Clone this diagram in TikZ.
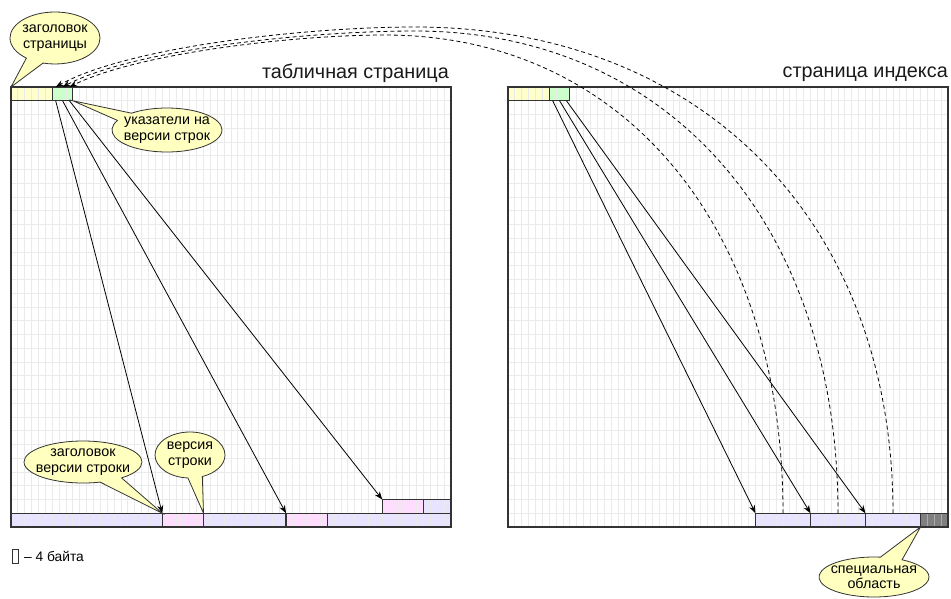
\documentclass[tikz,border=0pt]{standalone}
\usepackage{fontspec}
\setmainfont{Liberation Sans}
\usetikzlibrary{arrows.meta,shapes.callouts}
\definecolor{gridc}{RGB}{234,234,234}
\definecolor{edgec}{RGB}{51,51,51}
\definecolor{hdrfill}{RGB}{255,255,204}
\definecolor{ptrfill}{RGB}{204,255,204}
\definecolor{tuphdr}{RGB}{255,221,255}
\definecolor{tupdata}{RGB}{232,228,255}
\definecolor{specfill}{RGB}{128,128,128}
\definecolor{specline}{RGB}{170,170,170}
\definecolor{notefill}{RGB}{255,255,192}
\begin{document}
\begin{tikzpicture}[x=1pt,y=-1pt,
  cellblk/.style={rectangle, inner sep=0pt, outer sep=0pt, anchor=north west, minimum height=13.75pt},
  cells/.style={minimum width=#1*6.875pt},
  pagebox/.style={rectangle, inner sep=0pt, outer sep=0pt, anchor=north west, minimum width=440pt, minimum height=440pt},
  gridln/.style={draw=gridc, line width=1pt},
  blkedge/.style={draw=edgec, line width=1.1pt},
  ptr/.style={draw=black, line width=0.8pt, -{Stealth[length=8pt,width=6pt]}},
  tidlink/.style={ptr, dash pattern=on 4pt off 3pt},
  remark/.style={ellipse callout, draw=edgec, line width=0.8pt, fill=notefill, inner sep=0pt, callout pointer arc=24},
  remarktext/.style={align=center, inner sep=0pt, font=\fontsize{14.3}{15.5}\selectfont},
  pagetitle/.style={anchor=base east, inner sep=0pt, font=\fontsize{19.8}{22}\selectfont, text=black!90},
]
\useasboundingbox (0,0) rectangle (951,598);
\fill[white] (0,0) rectangle (951,598);

% pages
\node[pagebox] (lpage) at (11,87) {};
\node[pagebox] (rpage) at (508,87) {};

% table page: header, line pointers, tuples
\node[cellblk,cells=6,fill=hdrfill] (lhdr) at (11,87) {};
\node[cellblk,cells=1,fill=ptrfill] (lp1) at (52.25,87) {};
\node[cellblk,cells=1,fill=ptrfill] (lp2) at (59.125,87) {};
\node[cellblk,cells=1,fill=ptrfill] (lp3) at (66,87) {};
\node[cellblk,cells=6,fill=tuphdr] (t1h) at (382.25,499.5) {};
\node[cellblk,cells=4,fill=tupdata] (t1d) at (423.5,499.5) {};
\node[cellblk,cells=22,fill=tupdata] (t1e) at (11,513.25) {};
\node[cellblk,cells=6,fill=tuphdr] (t2h) at (162.25,513.25) {};
\node[cellblk,cells=12,fill=tupdata] (t2d) at (203.5,513.25) {};
\node[cellblk,cells=6,fill=tuphdr] (t3h) at (286,513.25) {};
\node[cellblk,cells=18,fill=tupdata] (t3d) at (327.25,513.25) {};

% index page: header, line pointers, index tuples, special area
\node[cellblk,cells=6,fill=hdrfill] (rhdr) at (508,87) {};
\node[cellblk,cells=1,fill=ptrfill] (rp1) at (549.25,87) {};
\node[cellblk,cells=1,fill=ptrfill] (rp2) at (556.125,87) {};
\node[cellblk,cells=1,fill=ptrfill] (rp3) at (563,87) {};
\node[cellblk,cells=8,fill=tupdata] (i1) at (755.5,513.25) {};
\node[cellblk,cells=8,fill=tupdata] (i2) at (810.5,513.25) {};
\node[cellblk,cells=8,fill=tupdata] (i3) at (865.5,513.25) {};
\node[cellblk,cells=4,fill=specfill] (sp) at (920.5,513.25) {};

% 4-byte grid
\foreach \ox in {11,508}{
  \foreach \i in {1,...,63} \draw[gridln] (\ox+\i*6.875,87) -- (\ox+\i*6.875,527);
  \foreach \j in {1,...,31} \draw[gridln] (\ox,87+\j*13.75) -- (\ox+440,87+\j*13.75);
}
\fill[specfill] (sp.north west) rectangle (sp.south east);
\foreach \i in {1,2,3} \draw[draw=specline, line width=1pt] (920.5+\i*6.875,513.25) -- (920.5+\i*6.875,527);

% outlines
\foreach \n in {lhdr,t1h,t1d,t1e,t2h,t2d,t3h,t3d,rhdr,i1,i2,i3,sp}
  \draw[blkedge] (\n.north west) rectangle (\n.south east);
\draw[blkedge] (lp1.north west) rectangle (lp3.south east);
\draw[blkedge] (rp1.north west) rectangle (rp3.south east);
\draw[blkedge] (lpage.north west) rectangle (lpage.south east);
\draw[blkedge] (rpage.north west) rectangle (rpage.south east);

% titles
\node[pagetitle] (ltitle) at (449,78) {табличная страница};
\node[pagetitle] (rtitle) at (948,77) {страница индекса};

% line pointers to tuples
\draw[ptr] (lp1.south) -- (t2h.north west);
\draw[ptr] (lp2.south) -- (t3h.north west);
\draw[ptr] (lp3.south) -- (t1h.north west);
\draw[ptr] (rp1.south) -- (i1.north west);
\draw[ptr] (rp2.south) -- (i2.north west);
\draw[ptr] (rp3.south) -- (i3.north west);

% index tuples referring back to table line pointers
\coordinate (pkA) at (415,27);
\coordinate (pkB) at (415,31);
\coordinate (pkC) at (385,35);
\draw[tidlink] (i3.north) .. controls +(0,-292) and +(287,0) .. (pkA)
  .. controls +(-110,0) and +(72,-40) .. (lp1.north);
\draw[tidlink] (i2.north) .. controls +(0,-289) and +(254,0) .. (pkB)
  .. controls +(-110,0) and +(70,-37) .. (lp2.north);
\draw[tidlink] (i1.north) .. controls +(0,-286) and +(239,0) .. (pkC)
  .. controls +(-95,0) and +(66,-33) .. (lp3.north);

% callouts
\node[remark, minimum width=90pt, minimum height=52pt, callout absolute pointer={(lhdr.north west)}] (n1) at (55,38) {};
\node[remarktext] at (n1.center) {заголовок\\страницы};
\node[remark, minimum width=110pt, minimum height=44pt, callout absolute pointer={(lp3.south east)}] (n2) at (167,130) {};
\node[remarktext] at (n2.center) {указатели на\\версии строк};
\node[remark, minimum width=118pt, minimum height=42pt, callout absolute pointer={(t2h.north west)}] (n3) at (83,462) {};
\node[remarktext] at (n3.center) {заголовок\\версии строки};
\node[remark, minimum width=70pt, minimum height=46pt, callout absolute pointer={(t2d.north west)}] (n4) at (190,455) {};
\node[remarktext] at (n4.center) {версия\\строки};
\node[remark, minimum width=110pt, minimum height=40pt, callout absolute pointer={(sp.south west)}] (n5) at (874,577) {};
\node[remarktext] at (n5.center) {специальная\\область};

% legend
\node[cellblk,cells=1,draw=edgec,line width=0.8pt] (lg) at (12,549.5) {};
\node[anchor=west, xshift=5pt, inner sep=0pt, font=\fontsize{13.8}{15}\selectfont] (lgtext) at (lg.east) {– 4 байта};
\end{tikzpicture}
\end{document}
